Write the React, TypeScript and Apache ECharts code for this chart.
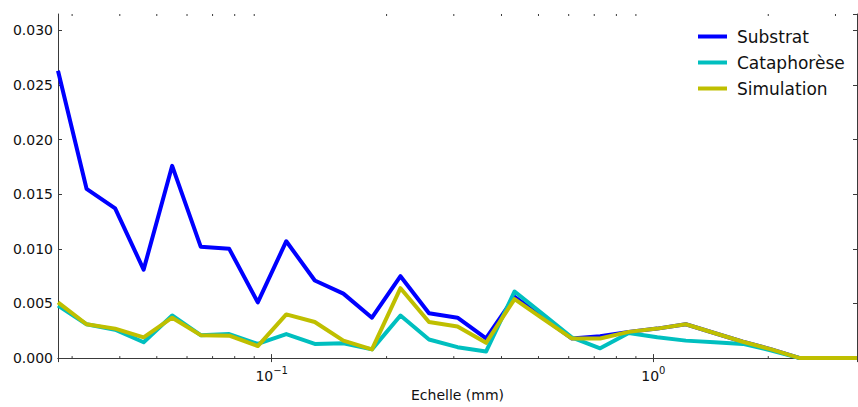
import React, { useEffect, useRef } from "react";
import * as echarts from "echarts";

const scales = [0.02755, 0.03273, 0.03889, 0.04618, 0.05486, 0.06516, 0.0774, 0.09195, 0.1092, 0.1297, 0.1541, 0.1831, 0.2175, 0.2583, 0.3068, 0.3644, 0.4329, 0.5142, 0.6108, 0.7255, 0.8618, 1.0237, 1.216, 1.444, 1.716, 2.038, 2.421, 2.876, 3.416];
const substrat = [0.0263, 0.0155, 0.0137, 0.0081, 0.0176, 0.0102, 0.0100, 0.0051, 0.0107, 0.0071, 0.0059, 0.0037, 0.0075, 0.0041, 0.0037, 0.0018, 0.0056, 0.0037, 0.0018, 0.0020, 0.0024, 0.0027, 0.0031, 0.0023, 0.0015, 0.0008, 0, 0, 0];
const cataphorese = [0.0048, 0.0031, 0.0026, 0.00145, 0.0039, 0.0021, 0.0022, 0.0013, 0.0022, 0.0013, 0.00135, 0.0008, 0.0039, 0.0017, 0.0010, 0.0006, 0.0061, 0.0040, 0.0019, 0.0009, 0.0023, 0.0019, 0.0016, 0.00145, 0.0013, 0.0007, 0, 0, 0];
const simulation = [0.0051, 0.0031, 0.0027, 0.0019, 0.0037, 0.0021, 0.00205, 0.0011, 0.0040, 0.0033, 0.0016, 0.0008, 0.0064, 0.0033, 0.0029, 0.0014, 0.0054, 0.0036, 0.0018, 0.0018, 0.0024, 0.0027, 0.0031, 0.0023, 0.0015, 0.0008, 0, 0, 0];
const minorTicks = [0.03, 0.04, 0.05, 0.06, 0.07, 0.08, 0.09, 0.2, 0.3, 0.4, 0.5, 0.6, 0.7, 0.8, 0.9, 2, 3];

const X_MIN = 0.02755;
const X_MAX = 3.416;
const Y_MAX = 0.0315;
const FONT = "DejaVu Sans";
const SPINE = "#3a3a3a";

export default function App() {
  const ref = useRef<HTMLDivElement>(null);
  useEffect(() => {
    if (!ref.current) return;
    const chart = echarts.init(ref.current, undefined, { renderer: "svg" });
    const xBase = {
      type: "log" as const,
      logBase: 10,
      min: X_MIN,
      max: X_MAX,
      splitLine: { show: false },
      axisLine: { show: true, lineStyle: { color: SPINE, width: 1 } },
      axisTick: { show: true, inside: true, length: 4, lineStyle: { color: SPINE } },
    };
    const yBase = {
      type: "value" as const,
      min: 0,
      max: Y_MAX,
      interval: 0.005,
      splitLine: { show: false },
      axisLine: { show: true, lineStyle: { color: SPINE, width: 1 } },
      axisTick: { show: true, inside: true, length: 4, lineStyle: { color: SPINE } },
    };
    const mk = (arr: number[]) => scales.map((x, i) => [x, arr[i]]);
    chart.setOption({
      animation: false,
      grid: { left: 58, right: 1, top: 14, bottom: 45, containLabel: false },
      xAxis: [
        {
          ...xBase,
          position: "bottom",
          name: "Echelle (mm)",
          nameLocation: "middle",
          nameGap: 29,
          nameTextStyle: { fontFamily: FONT, fontSize: 14, color: "#111" },
          axisLabel: {
            showMinLabel: false,
            showMaxLabel: false,
            margin: 7,
            formatter: (v: number) => {
              const e = Math.round(Math.log10(v));
              return "{b|10}{s|" + (e < 0 ? "\u2212" + -e : String(e)) + "}";
            },
            rich: {
              b: { fontFamily: FONT, fontSize: 14, color: "#111", lineHeight: 18, verticalAlign: "bottom" },
              s: { fontFamily: FONT, fontSize: 10, color: "#111", lineHeight: 18, verticalAlign: "top" },
            },
          },
        },
        { ...xBase, position: "top", axisLabel: { show: false } },
      ],
      yAxis: [
        {
          ...yBase,
          position: "left",
          axisLabel: {
            showMaxLabel: false,
            margin: 5,
            fontFamily: FONT,
            fontSize: 14,
            color: "#111",
            formatter: (v: number) => v.toFixed(3),
          },
        },
        { ...yBase, position: "right", axisLabel: { show: false } },
      ],
      legend: {
        orient: "vertical",
        left: 693,
        top: 23,
        itemWidth: 29,
        itemHeight: 4,
        itemGap: 9,
        icon: "rect",
        textStyle: { fontFamily: FONT, fontSize: 17, color: "#111", lineHeight: 17, padding: [0, 0, 0, 5] },
        data: ["Substrat", "Cataphorèse", "Simulation"],
      },
      series: [
        {
          name: "Substrat",
          type: "line",
          data: mk(substrat),
          showSymbol: false,
          symbol: "none",
          color: "#0000ff",
          lineStyle: { width: 4, color: "#0000ff", join: "round" },
        },
        {
          name: "Cataphorèse",
          type: "line",
          data: mk(cataphorese),
          showSymbol: false,
          symbol: "none",
          color: "#00bfbf",
          lineStyle: { width: 4, color: "#00bfbf", join: "round" },
        },
        {
          name: "Simulation",
          type: "line",
          data: mk(simulation),
          showSymbol: false,
          symbol: "none",
          color: "#bfbf00",
          lineStyle: { width: 4, color: "#bfbf00", join: "round" },
        },
        {
          type: "custom",
          silent: true,
          clip: false,
          data: minorTicks.map((v) => [v, 0]),
          renderItem: (params: any, api: any) => {
            const v = api.value(0);
            const b = api.coord([v, 0]);
            const t = api.coord([v, Y_MAX]);
            const st = { stroke: SPINE, lineWidth: 1 };
            return {
              type: "group",
              children: [
                { type: "line", shape: { x1: b[0], y1: b[1], x2: b[0], y2: b[1] - 2 }, style: st },
                { type: "line", shape: { x1: t[0], y1: t[1], x2: t[0], y2: t[1] + 2 }, style: st },
              ],
            };
          },
        },
      ],
    });
    return () => chart.dispose();
  }, []);
  return (
    <div
      ref={ref}
      style={{ position: "fixed", left: 0, top: 0, width: 858, height: 407, background: "#fff" }}
    />
  );
}
